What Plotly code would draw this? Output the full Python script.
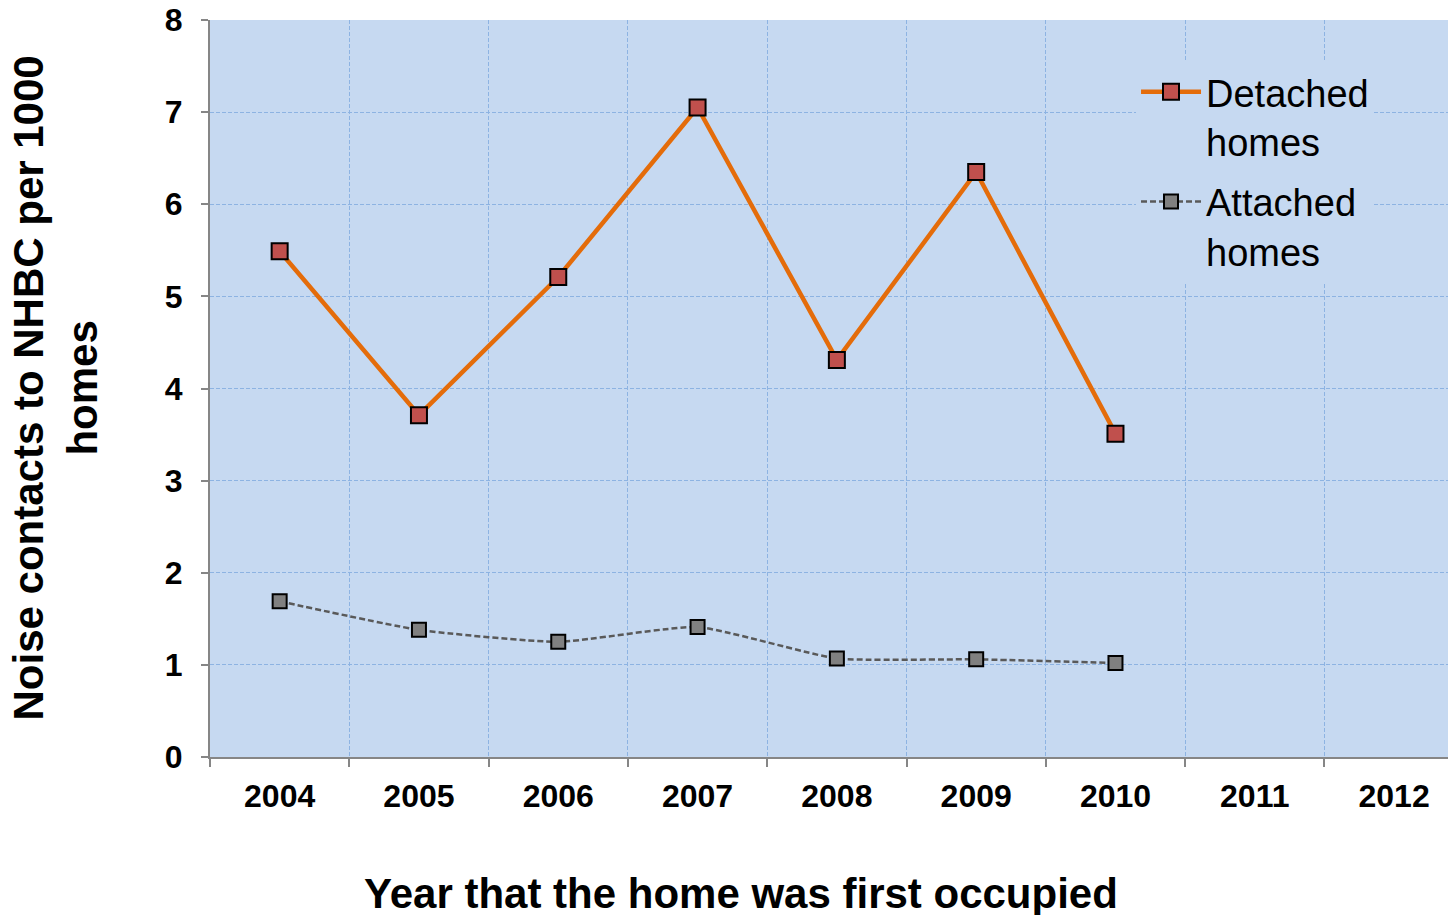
import plotly.graph_objects as go

# Data
years = ['2004', '2005', '2006', '2007', '2008', '2009', '2010', '2011', '2012']
detached = [5.49, 3.71, 5.21, 7.05, 4.31, 6.35, 3.51, None, None]
attached = [1.69, 1.38, 1.25, 1.41, 1.07, 1.06, 1.02, None, None]

FONT = "Arial, Liberation Sans, sans-serif"
PLOT_BG = "#C6D9F1"
GRID = "#8DB3E2"
AXIS = "#868686"

fig = go.Figure()

fig.add_trace(go.Scatter(
    x=years, y=detached, name="Detached<br>homes", legendgroup="det",
    mode="lines+markers",
    line=dict(color="#E46C0A", width=4.5),
    marker=dict(symbol="square", size=16, color="#C0504D",
                line=dict(color="black", width=2)),
))

fig.add_trace(go.Scatter(
    x=years, y=attached, name="Attached<br>homes", legendgroup="att",
    mode="lines+markers",
    line=dict(color="#595959", width=2.5, dash="6px,3px", shape="spline", smoothing=0.5),
    marker=dict(symbol="square", size=14, color="#808080",
                line=dict(color="black", width=2)),
))

fig.update_layout(
    width=1448, height=915,
    margin=dict(l=210, r=0, t=20, b=158),
    paper_bgcolor="white",
    plot_bgcolor=PLOT_BG,
    font=dict(family=FONT, color="black"),
    showlegend=True,
    legend=dict(
        x=0.748, y=0.945, xanchor="left", yanchor="top",
        bgcolor=PLOT_BG,
        font=dict(size=38, family=FONT, color="black"),
        itemwidth=60,
        tracegroupgap=8,
        valign="top",
        borderwidth=0,
    ),
)

fig.update_xaxes(
    type="category",
    range=[-0.5, 8.387],
    tickson="boundaries",
    showgrid=True, gridcolor=GRID, gridwidth=1, griddash="4px,2px",
    showline=True, linecolor=AXIS, linewidth=2,
    ticks="outside", ticklen=8, tickwidth=2, tickcolor=AXIS,
    ticklabelstandoff=10,
    tickfont=dict(size=32, family=FONT, color="black", weight="bold"),
    zeroline=False, automargin=False,
)

fig.update_yaxes(
    range=[0, 8], dtick=1,
    showgrid=True, gridcolor=GRID, gridwidth=1, griddash="4px,2px",
    showline=True, linecolor=AXIS, linewidth=2,
    ticks="outside", ticklen=7, tickwidth=2, tickcolor=AXIS,
    ticklabelstandoff=12,
    tickfont=dict(size=32, family=FONT, color="black", weight="bold"),
    zeroline=False, automargin=False,
)

# axis titles as annotations for exact placement
fig.add_annotation(
    text="<b>Noise contacts to NHBC per 1000<br>homes</b>",
    xref="paper", yref="paper", x=0, y=0.5,
    xanchor="center", yanchor="middle", xshift=-155,
    textangle=-90, showarrow=False,
    font=dict(size=42, family=FONT, color="black"),
)
fig.add_annotation(
    text="<b>Year that the home was first occupied</b>",
    xref="paper", yref="paper", x=0.429, y=0,
    xanchor="center", yanchor="middle", yshift=-136,
    showarrow=False,
    font=dict(size=42, family=FONT, color="black"),
)

# drop the default 8px body margin so the figure sits at the window corner
fig.write_html("out.html", config={"displayModeBar": False},
               post_script="document.body.style.margin='0';")
